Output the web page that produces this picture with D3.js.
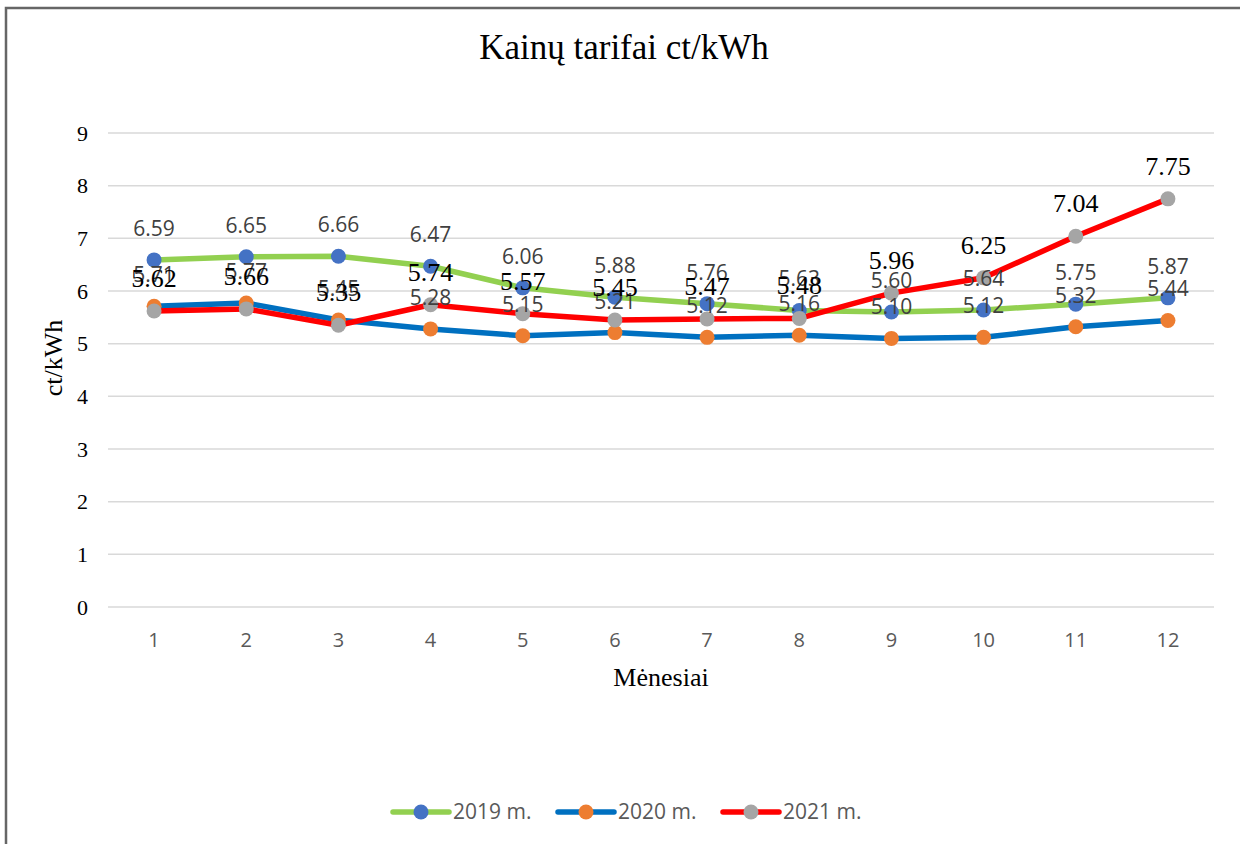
<!DOCTYPE html>
<html><head><meta charset="utf-8">
<script src="https://cdn.jsdelivr.net/npm/d3@7"></script>
<style>body{margin:0;background:#fff}svg{display:block}</style>
</head><body>
<svg id="c" width="1240" height="844"></svg>
<script>
const months = ["1","2","3","4","5","6","7","8","9","10","11","12"];
const yTicks = [0,1,2,3,4,5,6,7,8,9];
const v2019 = [6.59,6.65,6.66,6.47,6.06,5.88,5.76,5.63,5.60,5.64,5.75,5.87];
const v2020 = [5.71,5.77,5.45,5.28,5.15,5.21,5.12,5.16,5.10,5.12,5.32,5.44];
const v2021 = [5.62,5.66,5.35,5.74,5.57,5.45,5.47,5.48,5.96,6.25,7.04,7.75];
const seriesNames = ["2019 m.","2020 m.","2021 m."];
const lineColors = ["#92d050","#0070c0","#ff0000"];
const markerColors = ["#4472c4","#ed7d31","#a5a5a5"];

(function(){
const svg = d3.select("#c");
const W=1240,H=844;
const SERIF="Liberation Serif, Times New Roman, serif";
const SANS="Open Sans, Liberation Sans, sans-serif";
svg.append("rect").attr("x",0).attr("y",0).attr("width",W).attr("height",H).attr("fill","#fff");
svg.append("path").attr("d","M6,844 V8 H1240").attr("fill","none").attr("stroke","#666").attr("stroke-width",2.5);

const pL=108,pR=1214,pT=133,pB=607;
const x = d3.scaleBand().domain(months).range([pL,pR]);
const y = d3.scaleLinear().domain([0,9]).range([pB,pT]);

svg.append("g").selectAll("line").data(yTicks).join("line")
  .attr("x1",pL).attr("x2",pR).attr("y1",d=>y(d)).attr("y2",d=>y(d))
  .attr("stroke","#d9d9d9").attr("stroke-width",1.5);

const yAxis = d3.axisLeft(y).tickValues(yTicks).tickSize(0).tickPadding(0).tickFormat(d3.format("d"));
const gy = svg.append("g").attr("transform",`translate(${pL-20},0)`).call(yAxis);
gy.select(".domain").remove();
gy.attr("font-family",SERIF).attr("font-size",22);
gy.selectAll("text").attr("font-family",SERIF).attr("font-size",22).attr("fill","#000").attr("dy","0.33em");

const xAxis = d3.axisBottom(x).tickSize(0).tickPadding(0);
const gx = svg.append("g").attr("transform",`translate(0,${pB+33})`).call(xAxis);
gx.select(".domain").remove();
gx.attr("font-family",SANS).attr("font-size",20);
gx.selectAll("text").attr("font-family",SANS).attr("font-size",20).attr("fill","#595959").attr("dy","0.35em");

svg.append("text").attr("x",(pL+pR)/2).attr("y",686).attr("text-anchor","middle")
  .attr("font-family",SERIF).attr("font-size",26).attr("fill","#000").text("Mėnesiai");
svg.append("text").attr("transform",`translate(62,${(pT+pB)/2-12}) rotate(-90)`).attr("text-anchor","middle")
  .attr("font-family",SERIF).attr("font-size",26).attr("fill","#000").text("ct/kWh");

svg.append("text").attr("x",624).attr("y",59).attr("text-anchor","middle")
  .attr("font-family",SERIF).attr("font-size",35).attr("fill","#000").text("Kainų tarifai ct/kWh");

const allSeries = [v2019,v2020,v2021];
const cx = (d,i)=>x(months[i])+x.bandwidth()/2;
const line = d3.line().x(cx).y(d=>y(d));
allSeries.forEach((vals,si)=>{
  svg.append("path").datum(vals).attr("d",line).attr("fill","none")
    .attr("stroke",lineColors[si]).attr("stroke-width",5.5).attr("stroke-linejoin","round").attr("stroke-linecap","round");
});
allSeries.forEach((vals,si)=>{
  svg.append("g").selectAll("circle").data(vals).join("circle")
    .attr("cx",cx).attr("cy",d=>y(d)).attr("r",7.5).attr("fill",markerColors[si]);
});
const labelStyle = [
  {font:SANS,size:21,fill:"#404040"},
  {font:SANS,size:21,fill:"#404040"},
  {font:SERIF,size:26,fill:"#000"}
];
allSeries.forEach((vals,si)=>{
  const st=labelStyle[si];
  svg.append("g").selectAll("text").data(vals).join("text")
    .attr("x",cx).attr("y",d=>y(d)-24)
    .attr("text-anchor","middle").attr("font-family",st.font).attr("font-size",st.size).attr("fill",st.fill)
    .text(d=>d3.format(".2f")(d));
});

const legX=[393,558,723];
seriesNames.forEach((n,si)=>{
  const g=svg.append("g").attr("transform",`translate(${legX[si]},812)`);
  g.append("line").attr("x1",0).attr("x2",56).attr("y1",0).attr("y2",0).attr("stroke",lineColors[si]).attr("stroke-width",5.5).attr("stroke-linecap","round");
  g.append("circle").attr("cx",28).attr("cy",0).attr("r",7.5).attr("fill",markerColors[si]);
  g.append("text").attr("x",60).attr("y",0).attr("dy","0.35em").attr("font-family",SANS)
    .attr("font-size",21).attr("fill","#595959").text(n);
});
})();
</script>
</body></html>
